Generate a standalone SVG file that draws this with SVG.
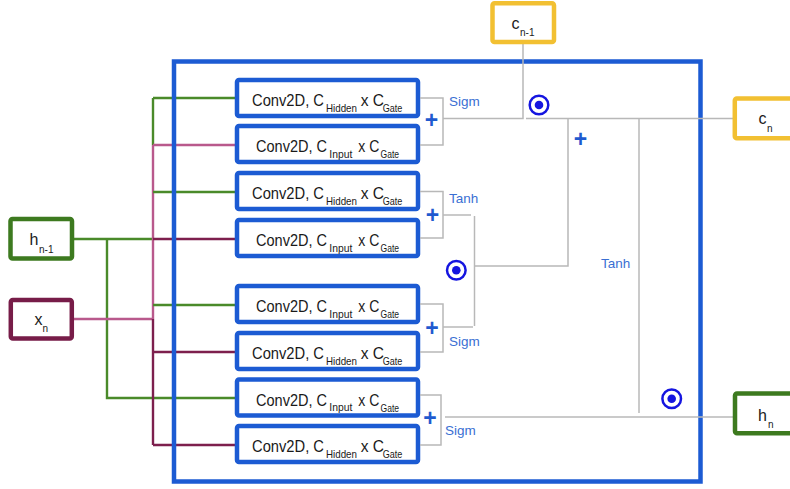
<svg xmlns="http://www.w3.org/2000/svg" width="790" height="489" viewBox="0 0 790 489">
  <style>
    text { font-family: "Liberation Sans", Arial, sans-serif; }
    .conv { fill: #ffffff; stroke: #1c5bd3; stroke-width: 4.5; }
    .frame { fill: none; stroke: #1c5bd3; stroke-width: 4.5; }
    .main { font-size: 16px; fill: #1a1a1a; }
    .sub { font-size: 11.5px; fill: #1a1a1a; }
    .var { font-size: 16px; fill: #1a1a1a; }
    .varsub { font-size: 10px; fill: #1a1a1a; }
    .lbl { font-size: 13.5px; fill: #3a6fd3; }
    .plus { font-size: 23px; font-weight: bold; fill: #1f5acf; text-anchor: middle; }
    .gray { fill: none; stroke: #b8b8b8; stroke-width: 1.5; }
    .green { fill: none; stroke: #4a8a2a; stroke-width: 2.4; }
    .pink { fill: none; stroke: #b9598c; stroke-width: 2.4; }
    .maroon { fill: none; stroke: #7d1f4d; stroke-width: 2.4; }
    .hnode { fill: #ffffff; stroke: #3d7a1f; stroke-width: 4.5; }
    .xnode { fill: #ffffff; stroke: #771c48; stroke-width: 4.5; }
    .cnode { fill: #ffffff; stroke: #f2c032; stroke-width: 4.5; }
    .had circle.ring { fill: none; stroke: #1515e0; stroke-width: 2.5; }
    .had circle.dot { fill: #1515e0; }
  </style>

  <defs>
    <!-- label rows for the two convolution kinds; x/y set per box through a transform -->
    <g id="lbl-hidden">
      <text class="main" x="252" y="8" textLength="72" lengthAdjust="spacingAndGlyphs">Conv2D, C</text>
      <text class="sub" x="326" y="14" textLength="31" lengthAdjust="spacingAndGlyphs">Hidden</text>
      <text class="main" x="360.7" y="8" textLength="23.3" lengthAdjust="spacingAndGlyphs">x C</text>
      <text class="sub" x="382.7" y="14" textLength="19.6" lengthAdjust="spacingAndGlyphs">Gate</text>
    </g>
    <g id="lbl-input">
      <text class="main" x="256" y="8" textLength="71" lengthAdjust="spacingAndGlyphs">Conv2D, C</text>
      <text class="sub" x="329.3" y="13.5" textLength="23" lengthAdjust="spacingAndGlyphs">Input</text>
      <text class="main" x="358.3" y="8" textLength="21" lengthAdjust="spacingAndGlyphs">x C</text>
      <text class="sub" x="380.5" y="14" textLength="18.5" lengthAdjust="spacingAndGlyphs">Gate</text>
    </g>
  </defs>

  <!-- input wiring from h(n-1) and x(n) into the convolutions -->
  <g id="input-wires">
    <path class="green" d="M72,239 H153"/>
    <path class="green" d="M107,239 V398 H235"/>
    <path class="pink" d="M72,319 H153"/>
    <path class="green" d="M153,98 V145"/>
    <path class="pink" d="M153,145 V319"/>
    <path class="maroon" d="M153,319 V445"/>
    <path class="green" d="M153,98 H235"/>
    <path class="pink" d="M153,145 H235"/>
    <path class="green" d="M153,192 H235"/>
    <path class="maroon" d="M153,239 H235"/>
    <path class="green" d="M153,305 H235"/>
    <path class="maroon" d="M153,352 H235"/>
    <path class="maroon" d="M153,445 H235"/>
  </g>

  <!-- cell boundary -->
  <rect id="cell" class="frame" x="174" y="61.5" width="526.5" height="420"/>

  <!-- gate convolutions -->
  <g id="conv1">
    <rect class="conv" x="237" y="80" width="181" height="36" rx="2"/>
    <use href="#lbl-hidden" transform="translate(0,98)"/>
  </g>
  <g id="conv2">
    <rect class="conv" x="237" y="126" width="181" height="36" rx="2"/>
    <use href="#lbl-input" transform="translate(0,144)"/>
  </g>
  <g id="conv3">
    <rect class="conv" x="237" y="173" width="181" height="36" rx="2"/>
    <use href="#lbl-hidden" transform="translate(0,191)"/>
  </g>
  <g id="conv4">
    <rect class="conv" x="237" y="220" width="181" height="36" rx="2"/>
    <use href="#lbl-input" transform="translate(0,238)"/>
  </g>
  <g id="conv5">
    <rect class="conv" x="237" y="286" width="181" height="36" rx="2"/>
    <use href="#lbl-input" transform="translate(0,304)"/>
  </g>
  <g id="conv6">
    <rect class="conv" x="237" y="333" width="181" height="36" rx="2"/>
    <use href="#lbl-hidden" transform="translate(0,351)"/>
  </g>
  <g id="conv7">
    <rect class="conv" x="237" y="379.5" width="181" height="36" rx="2"/>
    <use href="#lbl-input" transform="translate(0,397.5)"/>
  </g>
  <g id="conv8">
    <rect class="conv" x="237" y="426" width="181" height="36" rx="2"/>
    <use href="#lbl-hidden" transform="translate(0,444)"/>
  </g>

  <!-- gate sums, activations and state updates -->
  <g id="connectors">
    <path class="gray" d="M420,98 H443 V145 H420"/>
    <path class="gray" d="M443,118.5 H523 V43"/>
    <path class="gray" d="M526,118.5 H735"/>
    <path class="gray" d="M420,191.5 H443 V238 H420"/>
    <path class="gray" d="M443,215 H471"/>
    <path class="gray" d="M474.5,216 V326"/>
    <path class="gray" d="M420,304 H443 V352 H420"/>
    <path class="gray" d="M443,327 H473"/>
    <path class="gray" d="M474.5,266 H568 V118.5"/>
    <path class="gray" d="M639,118.5 V413"/>
    <path class="gray" d="M420,395 H441 V445 H420"/>
    <path class="gray" d="M445,417 H735"/>
  </g>

  <g id="ops">
    <text class="plus" x="431.5" y="127.5">+</text>
    <text class="plus" x="432.5" y="222.5">+</text>
    <text class="plus" x="432" y="335.5">+</text>
    <text class="plus" x="430" y="425.5">+</text>
    <text class="plus" x="580.5" y="147">+</text>
    <g class="had"><circle class="ring" cx="539" cy="105" r="9.3"/><circle class="dot" cx="539" cy="105" r="4.3"/></g>
    <g class="had"><circle class="ring" cx="456.3" cy="270.3" r="9.3"/><circle class="dot" cx="456.3" cy="270.3" r="4.3"/></g>
    <g class="had"><circle class="ring" cx="671.7" cy="398.7" r="9.3"/><circle class="dot" cx="671.7" cy="398.7" r="4.3"/></g>
    <text class="lbl" x="449" y="106">Sigm</text>
    <text class="lbl" x="449" y="202.5">Tanh</text>
    <text class="lbl" x="449" y="346">Sigm</text>
    <text class="lbl" x="445" y="435">Sigm</text>
    <text class="lbl" x="601" y="268">Tanh</text>
  </g>

  <!-- state nodes -->
  <g id="h-prev">
    <rect class="hnode" x="10.5" y="219" width="61.5" height="39.5" rx="2"/>
    <text class="var" x="29.5" y="245">h</text><text class="varsub" x="39" y="252.5">n-1</text>
  </g>
  <g id="x-in">
    <rect class="xnode" x="10.8" y="300" width="61" height="38.5" rx="2"/>
    <text class="var" x="34.5" y="324.5">x</text><text class="varsub" x="42.5" y="331.5">n</text>
  </g>
  <g id="c-prev">
    <rect class="cnode" x="492.5" y="3.2" width="61.5" height="38.8" rx="2"/>
    <text class="var" x="511.5" y="28.5">c</text><text class="varsub" x="520" y="35.5">n-1</text>
  </g>
  <g id="c-next">
    <rect class="cnode" x="734.8" y="98.5" width="61.5" height="39.8" rx="2"/>
    <text class="var" x="758.5" y="124">c</text><text class="varsub" x="767" y="131.5">n</text>
  </g>
  <g id="h-next">
    <rect class="hnode" x="735" y="393.5" width="61.5" height="39.8" rx="2"/>
    <text class="var" x="758" y="420.5">h</text><text class="varsub" x="768" y="427.5">n</text>
  </g>
</svg>
